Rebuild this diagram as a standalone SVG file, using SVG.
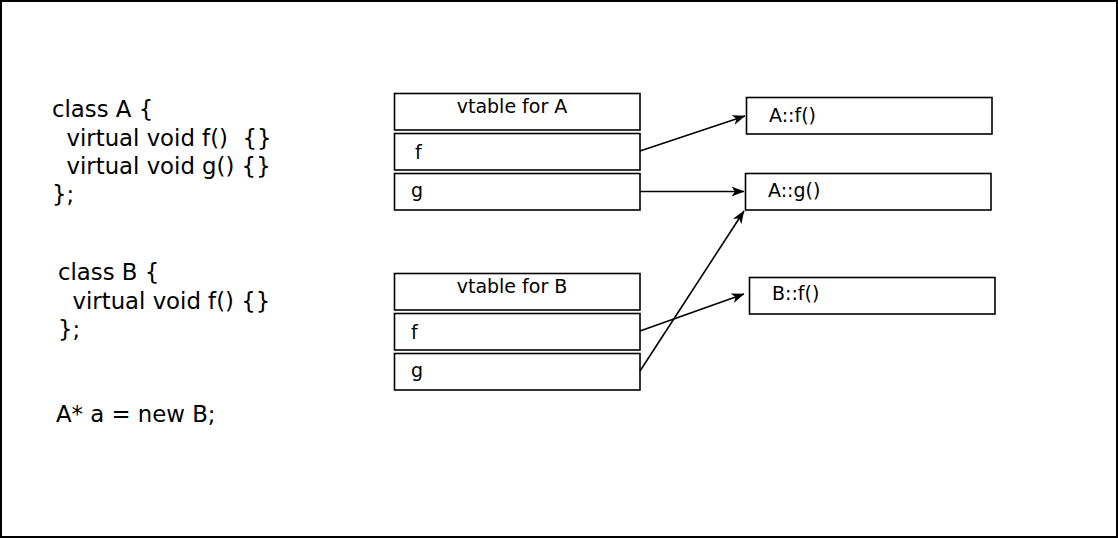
<svg xmlns="http://www.w3.org/2000/svg" width="1118" height="539" viewBox="0 0 1118 539">
<defs>
<style>
.box{fill:#fff;stroke:#000;stroke-width:1.6}
.code{font-family:"DejaVu Sans",sans-serif;font-size:22.8px;fill:#000}
.lbl{font-family:"DejaVu Sans",sans-serif;font-size:19px;fill:#000}
.edge{stroke:#000;stroke-width:1.6;fill:none;marker-end:url(#arr)}
</style>
<marker id="arr" viewBox="0 0 13 11" refX="12.5" refY="5.5" markerWidth="13" markerHeight="11" orient="auto" markerUnits="userSpaceOnUse">
<path d="M0,0.5 L13,5.5 L0,10.5 L3.5,5.5 Z" fill="#000"/>
</marker>
</defs>
<rect x="1" y="1" width="1116" height="536" fill="#fff" stroke="#000" stroke-width="2"/>
<g id="code">
<text class="code" x="52" y="117">class A {</text>
<text class="code" x="52" y="146" xml:space="preserve">  virtual void f()  {}</text>
<text class="code" x="52" y="174" xml:space="preserve">  virtual void g() {}</text>
<text class="code" x="52" y="202">};</text>
<text class="code" x="58" y="280">class B {</text>
<text class="code" x="58" y="309" xml:space="preserve">  virtual void f() {}</text>
<text class="code" x="58" y="337">};</text>
<text class="code" x="56" y="422">A* a = new B;</text>
</g>
<g id="vtA">
<rect class="box" x="394.5" y="93.5" width="245.5" height="36.5"/>
<text class="lbl" x="512" y="113" text-anchor="middle">vtable for A</text>
<rect class="box" x="394.5" y="133.5" width="245.5" height="36.5"/>
<text class="lbl" x="415" y="159">f</text>
<rect class="box" x="394.5" y="173.5" width="245.5" height="36.5"/>
<text class="lbl" x="411" y="197">g</text>
</g>
<g id="vtB">
<rect class="box" x="394.5" y="273.5" width="245.5" height="36.5"/>
<text class="lbl" x="512" y="293" text-anchor="middle">vtable for B</text>
<rect class="box" x="394.5" y="313.5" width="245.5" height="36.5"/>
<text class="lbl" x="411" y="339">f</text>
<rect class="box" x="394.5" y="353.5" width="245.5" height="36.5"/>
<text class="lbl" x="411" y="377">g</text>
</g>
<g id="Af">
<rect class="box" x="746.5" y="97.5" width="245.5" height="36.5"/>
<text class="lbl" x="769" y="122">A::f()</text>
</g>
<g id="Ag">
<rect class="box" x="745.5" y="173.5" width="245.5" height="36.5"/>
<text class="lbl" x="768" y="197">A::g()</text>
</g>
<g id="Bf">
<rect class="box" x="749.5" y="277.5" width="245.5" height="36.5"/>
<text class="lbl" x="772" y="300">B::f()</text>
</g>
<g id="edges">
<path class="edge" d="M640,151 L745,116"/>
<path class="edge" d="M640,191.5 L744,191.5"/>
<path class="edge" d="M640,331 L744,294"/>
<path class="edge" d="M640,371 L744,211"/>
</g>
</svg>
